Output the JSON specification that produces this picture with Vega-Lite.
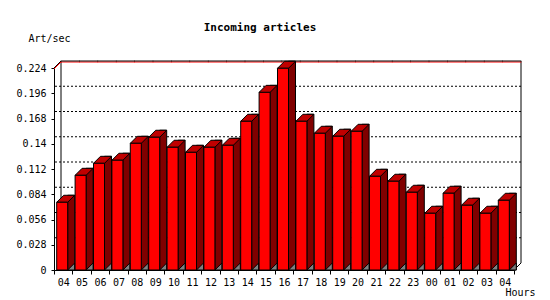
{
  "$schema": "https://vega.github.io/schema/vega-lite/v6.json",
  "width": 460,
  "height": 202,
  "autosize": "none",
  "padding": {"left": 54, "top": 68, "right": 36, "bottom": 30},
  "background": "white",
  "config": {
    "view": {"stroke": null},
    "font": "DejaVu Sans Mono",
    "axisY": {"labelOverlap": false, "labelFlush": false, "labelBound": false, "tickCount": 12}
  },
  "title": {"text": "Incoming articles", "font": "DejaVu Sans Mono", "fontSize": 11, "fontWeight": "bold", "color": "black", "anchor": "middle", "frame": "group", "dx": -24, "offset": 0},
  "datasets": {
    "rates": [
      {"h": "04", "value": 0.0751},
      {"h": "05", "value": 0.105},
      {"h": "06", "value": 0.1183},
      {"h": "07", "value": 0.1217},
      {"h": "08", "value": 0.1405},
      {"h": "09", "value": 0.1472},
      {"h": "10", "value": 0.1361},
      {"h": "11", "value": 0.1305},
      {"h": "12", "value": 0.1361},
      {"h": "13", "value": 0.1383},
      {"h": "14", "value": 0.1649},
      {"h": "15", "value": 0.197},
      {"h": "16", "value": 0.2237},
      {"h": "17", "value": 0.1649},
      {"h": "18", "value": 0.1516},
      {"h": "19", "value": 0.1483},
      {"h": "20", "value": 0.1538},
      {"h": "21", "value": 0.1039},
      {"h": "22", "value": 0.0984},
      {"h": "23", "value": 0.0862},
      {"h": "00", "value": 0.0629},
      {"h": "01", "value": 0.0851},
      {"h": "02", "value": 0.0718},
      {"h": "03", "value": 0.0629},
      {"h": "04+", "value": 0.0773}
    ],
    "grid": [
      {"value": 0.028}, {"value": 0.056}, {"value": 0.084}, {"value": 0.112},
      {"value": 0.14}, {"value": 0.168}, {"value": 0.196}
    ],
    "edges": [{"e": 0}, {"e": 1}]
  },
  "resolve": {"scale": {"x": "independent"}},
  "layer": [
    {
      "data": {"name": "grid"},
      "mark": {"type": "rule", "stroke": "black", "strokeWidth": 1, "strokeDash": [2, 2], "xOffset": 7, "yOffset": -7},
      "encoding": {
        "y": {
          "field": "value", "type": "quantitative", "scale": {"domain": [0, 0.224], "nice": false, "zero": true},
          "axis": {
            "title": "Art/sec", "values": [0, 0.028, 0.056, 0.084, 0.112, 0.14, 0.168, 0.196, 0.224], "tickCount": 12,
            "format": ".3~f", "tickSize": 3, "tickColor": "black", "domainColor": "black", "labelOverlap": false,
            "labelFont": "DejaVu Sans Mono", "labelFontSize": 10, "labelColor": "black", "labelPadding": 5,
            "titleFont": "DejaVu Sans Mono", "titleFontSize": 10, "titleFontWeight": "normal", "titleColor": "black",
            "titleAngle": 0, "titleX": -26, "titleY": -30, "titleAlign": "left", "titleBaseline": "middle", "grid": false
          }
        }
      }
    },
    {
      "data": {"name": "edges"},
      "encoding": {
        "x": {"field": "e", "type": "quantitative", "scale": {"domain": [0, 1], "nice": false, "zero": false}, "axis": null}
      },
      "layer": [
        {
          "mark": {"type": "rule", "stroke": "black", "strokeWidth": 1, "xOffset": 7, "yOffset": -7, "y2Offset": -7},
          "encoding": {
            "y": {"datum": 0, "type": "quantitative"},
            "y2": {"datum": 0.224}
          }
        },
        {
          "transform": [{"filter": "datum.e == 0"}],
          "mark": {"type": "point", "shape": "M 0 1 L 7 -6", "size": 4, "filled": false, "stroke": "#ff0000", "strokeWidth": 1, "opacity": 1},
          "encoding": {
            "y": {"datum": 0.224, "type": "quantitative"}
          }
        },
        {
          "transform": [{"filter": "datum.e == 0"}],
          "mark": {"type": "point", "shape": "M 0 0 L 7 -7", "size": 4, "filled": false, "stroke": "black", "strokeWidth": 1, "opacity": 1},
          "encoding": {
            "y": {"datum": 0.224, "type": "quantitative"}
          }
        },
        {
          "transform": [{"filter": "datum.e == 1"}],
          "mark": {"type": "point", "shape": "M 0 0 L 7 -7", "size": 4, "filled": false, "stroke": "black", "strokeWidth": 1, "opacity": 1},
          "encoding": {
            "y": {"datum": 0, "type": "quantitative"}
          }
        }
      ]
    },
    {
      "data": {"name": "rates"},
      "encoding": {
        "x": {
          "field": "h", "type": "nominal", "sort": null,
          "scale": {"type": "band", "paddingInner": 0, "paddingOuter": 0},
          "axis": {
            "title": "Hours", "labelExpr": "slice(datum.label, 0, 2)", "labelAngle": 0, "labelOverlap": false,
            "labelFont": "DejaVu Sans Mono", "labelFontSize": 10, "labelColor": "black", "labelPadding": 3,
            "tickBand": "extent", "tickSize": 4, "tickColor": "black", "domainColor": "black",
            "titleFont": "DejaVu Sans Mono", "titleFontSize": 10, "titleFontWeight": "normal", "titleColor": "black",
            "titleX": 451, "titleY": 22, "titleAlign": "left", "titleBaseline": "middle", "grid": false
          }
        }
      },
      "layer": [
        {
          "mark": {"type": "tick", "orient": "horizontal", "size": 19, "thickness": 1, "color": "#ff0000", "opacity": 1, "xOffset": 7, "yOffset": -6},
          "encoding": {
            "y": {"datum": 0.224, "type": "quantitative"}
          }
        },
        {
          "mark": {"type": "tick", "orient": "horizontal", "size": 19, "thickness": 1, "color": "black", "opacity": 1, "xOffset": 7, "yOffset": -7},
          "encoding": {
            "y": {"datum": 0.224, "type": "quantitative"}
          }
        },
        {
          "mark": {"type": "bar", "width": 7, "xOffset": 8, "yOffset": -7, "y2Offset": 0, "fill": "#800000", "stroke": "black", "strokeWidth": 1},
          "encoding": {
            "y": {"field": "value", "type": "quantitative"},
            "y2": {"datum": 0}
          }
        },
        {
          "mark": {"type": "point", "shape": "M 4.5 0 L 11.5 -7 L 11.5 0 Z", "size": 4, "filled": true, "fill": "#808080", "stroke": "black", "strokeWidth": 1, "opacity": 1},
          "encoding": {
            "y": {"datum": 0, "type": "quantitative"}
          }
        },
        {
          "mark": {"type": "point", "shape": "M -6.5 0 L 0.5 -7 L 11.5 -7 L 4.5 0 Z", "size": 4, "filled": true, "fill": "#c00000", "stroke": "black", "strokeWidth": 1, "opacity": 1},
          "encoding": {
            "y": {"field": "value", "type": "quantitative"}
          }
        },
        {
          "mark": {"type": "bar", "width": 11, "xOffset": -1, "fill": "#ff0000", "stroke": "black", "strokeWidth": 1},
          "encoding": {
            "y": {"field": "value", "type": "quantitative"},
            "y2": {"datum": 0}
          }
        }
      ]
    }
  ]
}
